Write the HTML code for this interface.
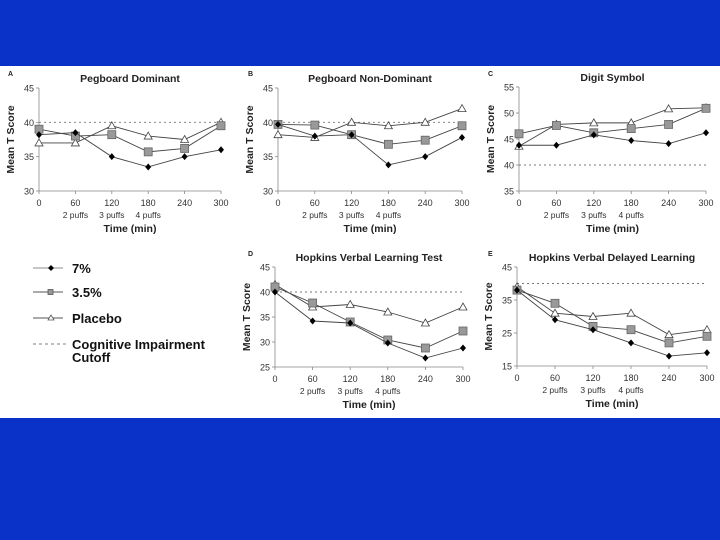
<!DOCTYPE html>
<html><head><meta charset="utf-8"><style>
body{margin:0;width:720px;height:540px;background:#0a32c8;overflow:hidden}
svg{display:block;font-family:"Liberation Sans",Arial,sans-serif}
</style></head><body>
<svg id="s" width="720" height="540">
<rect x="0" y="66" width="720" height="352" fill="#fff"/>
<g font-size="13" fill="#111" font-weight="bold">
<g><line x1="33" y1="268" x2="63" y2="268" stroke="#666" stroke-width="0.8"/><path d="M51,265 L54,268 L51,271 L48,268Z" fill="#000"/><text x="72" y="273">7%</text></g>
<g><line x1="33" y1="292" x2="63" y2="292" stroke="#555" stroke-width="1"/><rect x="48" y="289.5" width="5" height="5" fill="#999" stroke="#555" stroke-width="0.8"/><text x="72" y="297">3.5%</text></g>
<g><line x1="33" y1="318" x2="63" y2="318" stroke="#555" stroke-width="1"/><path d="M51,315 L54,320 L48,320Z" fill="#fff" stroke="#555" stroke-width="0.8"/><text x="72" y="323">Placebo</text></g>
<g><line x1="33" y1="344" x2="68" y2="344" stroke="#555" stroke-width="0.8" stroke-dasharray="3,3"/><text x="72" y="349">Cognitive Impairment</text><text x="72" y="362">Cutoff</text></g>
</g>
</svg>
<script>
const times=[0,60,120,180,240,300];
const xTickLabels=["0","60","120","180","240","300"];
const puffLabels=["2 puffs","3 puffs","4 puffs"];
const titles=["Pegboard Dominant","Pegboard Non-Dominant","Digit Symbol","Hopkins Verbal Learning Test","Hopkins Verbal Delayed Learning"];
const letters=["A","B","C","D","E"];
const yTicksA=[30,35,40,45],yTicksB=[30,35,40,45],yTicksC=[35,40,45,50,55],yTicksD=[25,30,35,40,45],yTicksE=[15,25,35,45];
const cutoff=40;
const drugA=[38.2,38.5,35,33.5,35,36],midA=[39,38,38.2,35.7,36.2,39.5],plaA=[37,37,39.5,38,37.5,40];
const drugB=[39.7,38,38.2,33.8,35,37.8],midB=[39.7,39.6,38.2,36.8,37.4,39.5],plaB=[38.2,37.8,40,39.5,40,42];
const drugC=[43.8,43.8,45.8,44.7,44.1,46.2],midC=[46,47.6,46.2,47,47.8,50.9],plaC=[43.6,47.8,48.1,48.1,50.8,51];
const drugD=[40,34.2,33.8,29.8,26.8,28.8],midD=[41,37.8,34,30.4,28.8,32.2],plaD=[41.5,37,37.5,36,33.8,37];
const drugE=[38,29,26,22,18,19],midE=[38,34,27,26,22,24],plaE=[39,31,30,31,24.5,26];
const panels=[
 {x0:39,x1:221,yt:88,yb:191,lx:8,ly:76,ticks:yTicksA,d:drugA,m:midA,p:plaA},
 {x0:278,x1:462,yt:88,yb:191,lx:248,ly:76,ticks:yTicksB,d:drugB,m:midB,p:plaB},
 {x0:519,x1:706,yt:87,yb:191,lx:488,ly:76,ticks:yTicksC,d:drugC,m:midC,p:plaC},
 {x0:275,x1:463,yt:267,yb:367,lx:248,ly:256,ticks:yTicksD,d:drugD,m:midD,p:plaD},
 {x0:517,x1:707,yt:267,yb:366,lx:488,ly:256,ticks:yTicksE,d:drugE,m:midE,p:plaE}];
const NS="http://www.w3.org/2000/svg",svg=document.getElementById('s');
function mk(t,a,par){const e=document.createElementNS(NS,t);for(const k in a)e.setAttribute(k,a[k]);(par||svg).appendChild(e);return e;}
panels.forEach((P,i)=>{
 const g=mk('g',{});
 
 
 const lo=P.ticks[0],hi=P.ticks[P.ticks.length-1];
 const X=t=>P.x0+(t-times[0])/(times[times.length-1]-times[0])*(P.x1-P.x0);
 const Y=v=>P.yb-(v-lo)/(hi-lo)*(P.yb-P.yt);
 const cx=(P.x0+P.x1)/2;
 let e=mk('text',{x:P.lx,y:P.ly,'font-size':7,'font-weight':'bold',fill:'#222'},g);e.textContent=letters[i];
 
 e=mk('text',{x:cx,y:P.yt-6,'font-size':10.5,'font-weight':'bold','text-anchor':'middle',fill:'#222'},g);e.textContent=titles[i];
 
 e=mk('text',{x:0,y:0,'font-size':10.5,'font-weight':'bold','text-anchor':'middle',fill:'#222',transform:`translate(${P.x0-25},${(P.yt+P.yb)/2}) rotate(-90)`},g);e.textContent="Mean T Score";
 
 mk('line',{x1:P.x0,y1:P.yt,x2:P.x0,y2:P.yb,stroke:'#888','stroke-width':0.8},g);
 mk('line',{x1:P.x0,y1:P.yb,x2:P.x1,y2:P.yb,stroke:'#888','stroke-width':0.8},g);
 P.ticks.forEach(v=>{mk('line',{x1:P.x0-3,y1:Y(v),x2:P.x0,y2:Y(v),stroke:'#888','stroke-width':0.8},g);
  e=mk('text',{x:P.x0-5,y:Y(v)+3.5,'font-size':9,'text-anchor':'end',fill:'#333'},g);e.textContent=v;
  });
 times.forEach((t,j)=>{mk('line',{x1:X(t),y1:P.yb,x2:X(t),y2:P.yb+3,stroke:'#888','stroke-width':0.8},g);
  e=mk('text',{x:X(t),y:P.yb+15,'font-size':9,'text-anchor':'middle',fill:'#333'},g);e.textContent=xTickLabels[j];
  });
 puffLabels.forEach((s,j)=>{e=mk('text',{x:X(times[j+1]),y:P.yb+27,'font-size':8.5,'text-anchor':'middle',fill:'#333'},g);e.textContent=s;
  });
 e=mk('text',{x:cx,y:P.yb+41,'font-size':10.5,'font-weight':'bold','text-anchor':'middle',fill:'#222'},g);e.textContent="Time (min)";
 
 e=mk('line',{x1:P.x0,y1:Y(cutoff),x2:P.x1,y2:Y(cutoff),stroke:'#777','stroke-width':0.9,'stroke-dasharray':'2,3'},g);
 
 [[P.p,'tri','placebo'],[P.m,'sq','3.5pct'],[P.d,'dia','7pct']].forEach(([arr,sh,nm])=>{
  e=mk('polyline',{points:arr.map((v,j)=>X(times[j])+','+Y(v)).join(' '),fill:'none',stroke:'#444','stroke-width':0.9},g);
  
  arr.forEach((v,j)=>{const x=X(times[j]),y=Y(v);let m;
   if(sh=='tri')m=mk('path',{d:`M${x},${y-4}L${x+4},${y+3}L${x-4},${y+3}Z`,fill:'#fff',stroke:'#444','stroke-width':0.8},g);
   else if(sh=='sq')m=mk('rect',{x:x-4,y:y-4,width:8,height:8,fill:'#999',stroke:'#666','stroke-width':0.8},g);
   else m=mk('path',{d:`M${x},${y-3.5}L${x+3},${y}L${x},${y+3.5}L${x-3},${y}Z`,fill:'#000'},g);
   });
 });
});
</script>
</body></html>
